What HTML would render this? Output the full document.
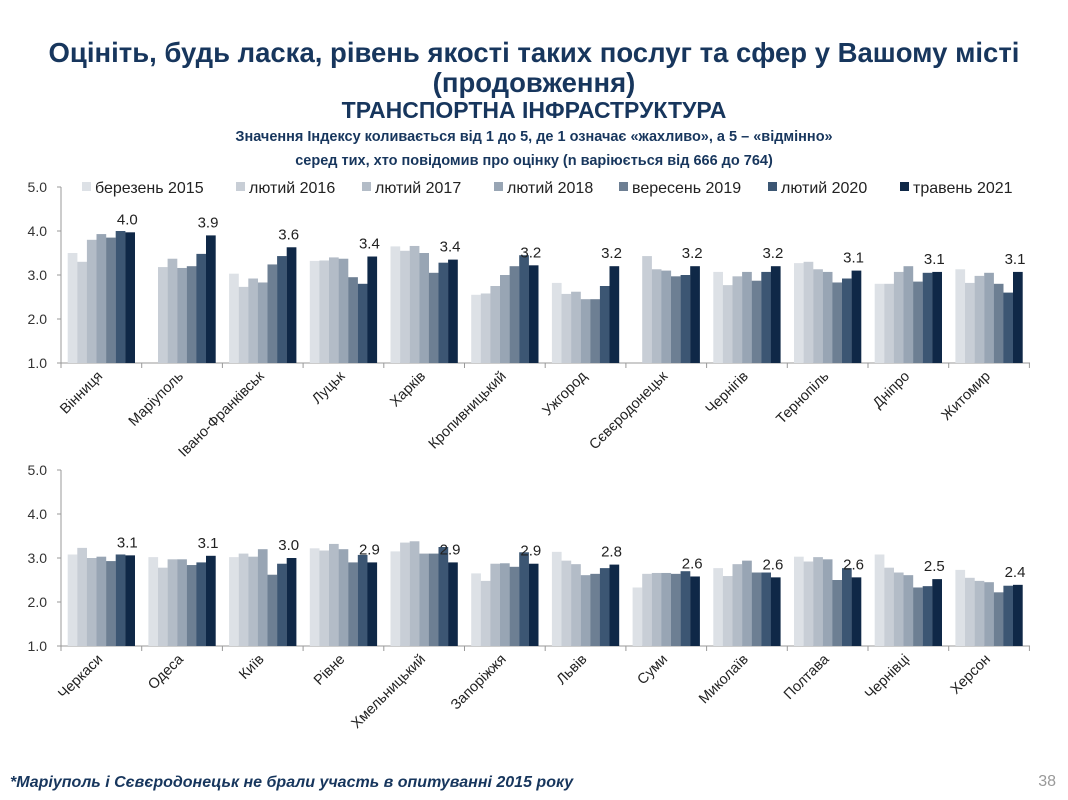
<!DOCTYPE html>
<html><head><meta charset="utf-8"><style>
html,body{margin:0;padding:0;background:#fff;}
svg{display:block;font-family:"Liberation Sans","DejaVu Sans",sans-serif;}
</style></head><body>
<svg id="s" width="1068" height="800" viewBox="0 0 1068 800" xmlns="http://www.w3.org/2000/svg">
<text x="534" y="62" text-anchor="middle" font-size="27.5" font-weight="bold" fill="#17365d">Оцініть, будь ласка, рівень якості таких послуг та сфер у Вашому місті</text>
<text x="534" y="92" text-anchor="middle" font-size="27.5" font-weight="bold" fill="#17365d">(продовження)</text>
<text x="534" y="118" text-anchor="middle" font-size="23" font-weight="bold" fill="#17365d">ТРАНСПОРТНА ІНФРАСТРУКТУРА</text>
<text x="534" y="141" text-anchor="middle" font-size="14.5" font-weight="bold" fill="#17365d">Значення Індексу коливається від 1 до 5, де 1 означає «жахливо», а 5 – «відмінно»</text>
<text x="534" y="165" text-anchor="middle" font-size="14.5" font-weight="bold" fill="#17365d">серед тих, хто повідомив про оцінку (n варіюється від 666 до 764)</text>
<text x="10" y="787" font-size="16" font-style="italic" font-weight="bold" fill="#17365d">*Маріуполь і Сєвєродонецьк не брали участь в опитуванні 2015 року</text>
<text x="1056" y="786" text-anchor="end" font-size="16" fill="#999">38</text>
<g id="g"></g>
</svg>
<script>
var C=["#dde1e6","#c8ced6","#b3bcc7","#98a5b4","#6d7f93","#3c5673","#0f2847"];
var top1=[["Вінниця",[3.5,3.3,3.8,3.93,3.85,4.0,3.97],"4.0"],["Маріуполь",[null,3.18,3.37,3.16,3.2,3.48,3.9],"3.9"],["Івано-Франківськ",[3.03,2.73,2.92,2.83,3.24,3.43,3.63],"3.6"],["Луцьк",[3.32,3.33,3.4,3.37,2.95,2.8,3.42],"3.4"],["Харків",[3.65,3.55,3.66,3.5,3.05,3.28,3.35],"3.4"],["Кропивницький",[2.55,2.58,2.75,3.0,3.2,3.45,3.22],"3.2"],["Ужгород",[2.82,2.57,2.62,2.45,2.45,2.75,3.2],"3.2"],["Сєвєродонецьк",[null,3.43,3.13,3.1,2.97,3.0,3.2],"3.2"],["Чернігів",[3.07,2.77,2.97,3.07,2.87,3.07,3.2],"3.2"],["Тернопіль",[3.27,3.3,3.13,3.07,2.83,2.92,3.1],"3.1"],["Дніпро",[2.8,2.8,3.07,3.2,2.85,3.05,3.07],"3.1"],["Житомир",[3.13,2.82,2.98,3.05,2.8,2.6,3.07],"3.1"]];
var bot=[["Черкаси",[3.08,3.23,3.0,3.03,2.93,3.08,3.06],"3.1"],["Одеса",[3.02,2.78,2.97,2.97,2.84,2.9,3.05],"3.1"],["Київ",[3.02,3.1,3.03,3.2,2.62,2.87,3.0],"3.0"],["Рівне",[3.22,3.17,3.32,3.2,2.9,3.07,2.9],"2.9"],["Хмельницький",[3.15,3.35,3.38,3.1,3.1,3.25,2.9],"2.9"],["Запоріжжя",[2.65,2.48,2.87,2.88,2.8,3.13,2.87],"2.9"],["Львів",[3.14,2.94,2.86,2.61,2.64,2.77,2.85],"2.8"],["Суми",[2.33,2.64,2.66,2.66,2.64,2.7,2.58],"2.6"],["Миколаїв",[2.77,2.59,2.86,2.94,2.67,2.67,2.56],"2.6"],["Полтава",[3.03,2.92,3.02,2.97,2.5,2.77,2.56],"2.6"],["Чернівці",[3.08,2.78,2.67,2.61,2.33,2.36,2.52],"2.5"],["Херсон",[2.73,2.55,2.48,2.45,2.22,2.37,2.39],"2.4"]];
var h="";
function chart(data,base){
  var x0=61,pw=80.7,u=44;
  h+='<line x1="'+x0+'" y1="'+(base-4*u)+'" x2="'+x0+'" y2="'+base+'" stroke="#999" stroke-width="1"/>';
  h+='<line x1="'+x0+'" y1="'+base+'" x2="1030" y2="'+base+'" stroke="#999" stroke-width="1"/>';
  for(var k=0;k<5;k++){var y=base-k*u;h+='<line x1="'+(x0-4)+'" y1="'+y+'" x2="'+x0+'" y2="'+y+'" stroke="#999"/>';
    h+='<text x="'+(x0-14)+'" y="'+(y+5)+'" text-anchor="end" font-size="14" fill="#333">'+(k+1)+'.0</text>';}
  for(var g=0;g<=12;g++){var x=x0+g*pw;h+='<line x1="'+x+'" y1="'+base+'" x2="'+x+'" y2="'+(base+5)+'" stroke="#999"/>';}
  data.forEach(function(d,g){
    var gs=x0+g*pw+6.7;
    d[1].forEach(function(v,i){ if(v==null)return;
      var y=base-(v-1)*u; h+='<rect x="'+(gs+i*9.6)+'" y="'+y+'" width="9.7" height="'+(base-y)+'" fill="'+C[i]+'"/>';});
    var lv=d[1][6], ly=base-(lv-1)*u-8, lx=gs+6*9.6+2;
    h+='<text x="'+lx+'" y="'+ly+'" text-anchor="middle" font-size="15" fill="#222">'+d[2]+'</text>';
    var cx=x0+g*pw+pw/2+2, cy=base+14;
    h+='<text transform="translate('+cx+','+cy+') rotate(-45)" text-anchor="end" font-size="14.5" fill="#222">'+d[0]+'</text>';
  });
}
chart(top1,363);
chart(bot,646);
var L=[[82,"березень 2015"],[236,"лютий 2016"],[362,"лютий 2017"],[494,"лютий 2018"],[619,"вересень 2019"],[768,"лютий 2020"],[900,"травень 2021"]];
L.forEach(function(l,i){h+='<rect x="'+l[0]+'" y="'+182+'" width="9" height="9" fill="'+C[i]+'"/>';
 h+='<text x="'+(l[0]+13)+'" y="193" font-size="16" fill="#222">'+l[1]+'</text>';});
document.getElementById("g").innerHTML=h;
</script>
</body></html>
